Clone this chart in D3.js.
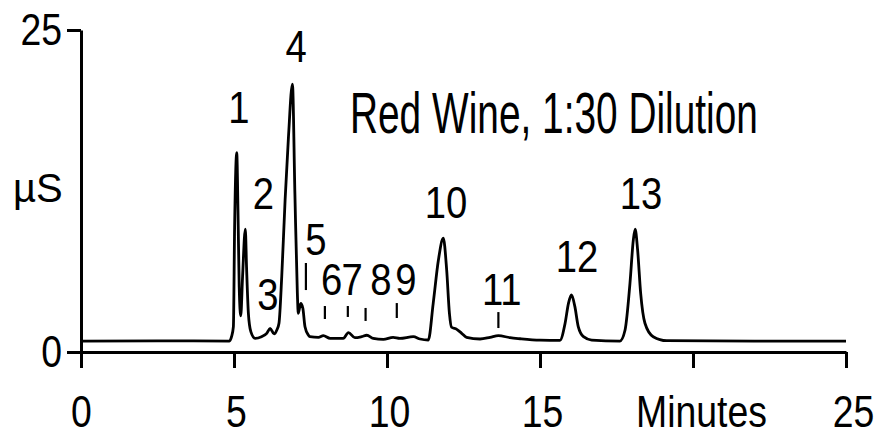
<!DOCTYPE html>
<html>
<head>
<meta charset="utf-8">
<script src="https://cdn.jsdelivr.net/npm/d3@7"></script>
<style>
  html, body { margin: 0; padding: 0; background: #fff; }
  svg text { font-family: "Liberation Sans", Arial, sans-serif; fill: #000; }
</style>
</head>
<body>
<svg id="chart" width="881" height="436"></svg>
<script>
// ---- data ----
const traceTime = [0, 2.5, 4.85, 4.92, 4.98, 5.02, 5.09, 5.13, 5.17, 5.22, 5.28, 5.37, 5.41, 5.47, 5.55, 5.69, 5.9, 6.07, 6.18, 6.31, 6.4, 6.47, 6.56, 6.67, 6.78, 6.91, 6.99, 7.07, 7.10, 7.18, 7.25, 7.32, 7.43, 7.48, 7.76, 7.92, 8.14, 8.57, 8.74, 8.95, 9.17, 9.34, 9.55, 9.88, 10.2, 10.42, 10.86, 11.08, 11.35, 11.51, 11.68, 11.84, 11.95, 12.04, 12.11, 12.28, 12.44, 12.6, 13.04, 13.37, 13.64, 14.02, 14.35, 15.0, 15.65, 15.82, 15.93, 16.03, 16.14, 16.25, 16.42, 16.69, 17.61, 17.78, 17.94, 18.05, 18.11, 18.19, 18.29, 18.43, 18.7, 19.14, 22.0, 25];
const traceSignal = [0.85, 0.87, 0.85, 1.19, 1.97, 9.7, 15.47, 11.0, 5.07, 2.8, 5.85, 9.53, 6.6, 3.0, 1.58, 1.06, 1.19, 1.45, 1.84, 1.4, 1.71, 2.23, 5.85, 11.8, 16.7, 20.8, 12.3, 4.6, 3.0, 3.78, 3.4, 1.96, 1.32, 1.19, 1.14, 1.27, 1.06, 1.06, 1.5, 1.11, 1.19, 1.3, 1.06, 0.98, 1.14, 1.06, 1.19, 1.01, 0.93, 3.78, 7.14, 8.83, 6.37, 3.0, 1.92, 1.76, 1.45, 1.14, 1.01, 1.14, 1.27, 1.11, 1.03, 0.92, 0.9, 2.23, 3.78, 4.43, 3.52, 1.97, 1.19, 0.93, 0.85, 1.71, 5.33, 8.7, 9.53, 7.92, 4.55, 2.23, 1.19, 0.88, 0.85, 0.85];

const peakLabels = ["1", "2", "3", "4", "5", "6", "7", "8", "9", "10", "11", "12", "13"];
const peakLabelTime = [5.16, 5.96, 6.11, 7.03, 7.68, 8.19, 8.86, 9.80, 10.62, 11.93, 13.75, 16.21, 18.30];
const peakLabelSignal = [17.76, 11.1, 3.26, 22.54, 7.53, 4.43, 4.43, 4.43, 4.43, 10.4, 3.65, 6.23, 11.08];

const markerTime = [7.35, 7.97, 8.72, 9.30, 10.32, 13.64];
const markerTop = [6.91, 3.57, 3.57, 3.42, 3.80, 3.1];
const markerBottom = [4.81, 2.56, 2.72, 2.41, 2.64, 1.86];

const xTicks = [0, 5, 10, 15, 20, 25];
const xTickLabels = ["0", "5", "10", "15", "Minutes", "25"];
const yTicks = [0, 25];
const yTickLabels = ["0", "25"];

const title = "Red Wine, 1:30 Dilution";
const titleTime = 8.79, titleSignal = 17.0;
const yTitle = "\u00B5S";

// ---- chart ----
const svg = d3.select("#chart");
const x = d3.scaleLinear().domain([0, 25]).range([81, 846]);
const y = d3.scaleLinear().domain([0, 25]).range([352, 30]);
const K = 0.85; // horizontal condensing of the labels

function condense(sel, k) {
  sel.each(function () {
    const t = d3.select(this);
    const tx = +t.attr("x") || 0, ty = +t.attr("y") || 0;
    t.attr("x", 0).attr("y", 0).attr("transform", `translate(${tx},${ty}) scale(${k},1)`);
  });
}

const xAxis = svg.append("g").attr("transform", `translate(0,${y(0)})`)
  .call(d3.axisBottom(x).tickValues(xTicks).tickFormat((d, i) => xTickLabels[i])
    .tickSize(16).tickSizeOuter(0).tickPadding(28));
const yAxis = svg.append("g").attr("transform", `translate(${x(0)},0)`)
  .call(d3.axisLeft(y).tickValues(yTicks).tickFormat((d, i) => yTickLabels[i])
    .tickSize(14).tickSizeOuter(0).tickPadding(5));

[xAxis, yAxis].forEach(g => {
  g.attr("font-family", null);
  g.select(".domain").attr("stroke", "#000").attr("stroke-width", 3);
  g.selectAll(".tick line").attr("stroke", "#000").attr("stroke-width", 3);
  g.selectAll(".tick text").attr("font-size", 44).attr("fill", "#000");
});
xAxis.selectAll(".tick text")
  .attr("x", (d, i) => xTickLabels[i] === "Minutes" ? 8 : (d === 25 ? 7 : (d === 0 ? 0 : 2)));
condense(xAxis.selectAll(".tick text"), K);
condense(yAxis.selectAll(".tick text"), K);

// y axis title
svg.append("text").attr("x", 13).attr("y", 202).attr("font-size", 40).text(yTitle);

// trace
const pts = traceTime.map((t, i) => [t, traceSignal[i]]);
svg.append("path")
  .attr("d", d3.line().x(d => x(d[0])).y(d => y(d[1])).curve(d3.curveMonotoneX)(pts))
  .attr("fill", "none").attr("stroke", "#000").attr("stroke-width", 2.8)
  .attr("stroke-linejoin", "round");

// marker ticks
svg.append("g").selectAll("line").data(markerTime).join("line")
  .attr("x1", d => x(d)).attr("x2", d => x(d))
  .attr("y1", (d, i) => y(markerTop[i])).attr("y2", (d, i) => y(markerBottom[i]))
  .attr("stroke", "#000").attr("stroke-width", 2.2);

// peak labels
const pl = svg.append("g").selectAll("text").data(peakLabels).join("text")
  .attr("x", (d, i) => x(peakLabelTime[i])).attr("y", (d, i) => y(peakLabelSignal[i]))
  .attr("text-anchor", "middle").attr("font-size", 45).text(d => d);
condense(pl, K);

// title (condensed to the reference's width)
const tt = svg.append("text").attr("x", x(titleTime)).attr("y", y(titleSignal))
  .attr("font-size", 57).text(title);
const natural = tt.node().getComputedTextLength();
condense(tt, 408 / natural);
</script>
</body>
</html>
